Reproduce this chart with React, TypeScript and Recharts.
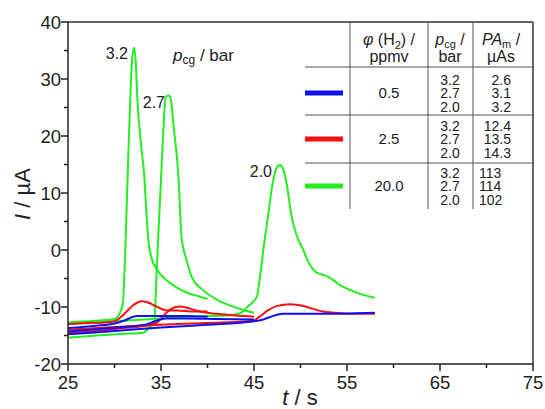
import React from 'react';
import { LineChart, Line, XAxis, YAxis, ReferenceLine } from 'recharts';

// axis ticks (minor every 5, labels every 10)
const xTicks = [25, 30, 35, 40, 45, 50, 55, 60, 65, 70, 75];
const xLabels = [25, 35, 45, 55, 65, 75];
const yTicks = [-20, -15, -10, -5, 0, 5, 10, 15, 20, 25, 30, 35, 40];
const yLabels = [-20, -10, 0, 10, 20, 30, 40];

// 20.0 ppmv H2 (green), t in s, I in µA
const g32T = [25, 27, 29, 30, 30.5, 30.9, 31.2, 31.4, 31.7, 31.9, 32.1, 32.3, 32.45, 32.85, 33.2, 33.45, 33.65, 34.0, 34.6, 35.6, 36.7, 37.8, 39, 40];
const g32V = [-12.7, -12.5, -12.3, -12.1, -11.3, -9.3, 2, 12.3, 26.8, 33.5, 35.5, 32.5, 26.8, 18.5, 13, 6, 1.5, -1.5, -3.5, -5.3, -6.6, -7.5, -8.1, -8.6];
const g27T = [25, 28, 31, 33.1, 33.8, 34.3, 34.5, 34.75, 35.0, 35.25, 35.5, 35.8, 36.0, 36.4, 36.9, 37.2, 37.7, 38.3, 39.5, 41, 42.7, 44, 45];
const g27V = [-15.4, -15.0, -14.7, -14.5, -13.5, -12.5, -5, 4, 12.3, 21, 26.8, 27.1, 26.8, 21, 12.3, 2.3, -1.5, -4.7, -7, -8.7, -9.9, -10.6, -11];
const g20T = [25, 28, 31, 34, 37, 40, 42, 43.5, 44.4, 45.3, 45.7, 46.0, 46.5, 47.0, 47.4, 47.8, 48.1, 48.5, 49.05, 49.6, 50.3, 50.9, 51.6, 52.3, 53, 54.2, 55.3, 56.4, 58];
const g20V = [-13.0, -12.7, -12.4, -12.1, -11.8, -11.6, -11.5, -11.1, -9.8, -8.2, -4, 0, 5.8, 11.7, 14.3, 14.9, 14.3, 11.7, 5.8, 2.5, 0, -2.3, -3.8, -4.3, -4.7, -6.1, -7.0, -7.7, -8.4];

// 2.5 ppmv H2 (red)
const r32T = [25, 27, 29, 30, 31, 32, 32.9, 33.6, 34.5, 35.6, 36.7, 38.5, 40];
const r32V = [-13.0, -12.8, -12.7, -12.5, -11.3, -9.7, -9.0, -9.2, -9.9, -10.6, -10.6, -10.8, -10.8];
const r27T = [25, 28, 31, 33, 34.5, 35.3, 36.0, 37.0, 38.0, 39.2, 41, 43, 45];
const r27V = [-14.6, -14.2, -13.7, -13.4, -12.8, -11.5, -10.4, -9.9, -10.2, -10.8, -11.2, -11.5, -11.7];
const r20T = [25, 30, 35, 40, 44.9, 45.6, 46.5, 47.5, 48.9, 50.5, 52.4, 54.5, 56.4, 58];
const r20V = [-14.0, -13.5, -13.1, -12.8, -12.4, -11.7, -10.6, -9.8, -9.5, -9.9, -10.8, -11.1, -11.2, -11.2];

// 0.5 ppmv H2 (blue)
const b32T = [25, 28, 30, 31, 32.4, 35, 37.5, 40];
const b32V = [-13.7, -13.3, -12.9, -12.4, -11.6, -11.6, -11.6, -11.7];
const b27T = [25, 28, 31, 33.5, 34.5, 35.5, 38, 41, 45];
const b27V = [-14.3, -13.9, -13.5, -13.0, -12.4, -12.0, -12.0, -12.1, -12.2];
const b20T = [25, 30, 35, 40, 44.6, 46, 47, 48.1, 50, 53, 56, 58];
const b20V = [-14.8, -14.2, -13.6, -13.1, -12.6, -12.2, -11.6, -11.2, -11.2, -11.2, -11.1, -11.0];

// legend table
const ppmv = ['0.5', '2.5', '20.0'];
const pressures = ['3.2', '2.7', '2.0'];
const peakAreas = [['2.6', '3.1', '3.2'], ['12.4', '13.5', '14.3'], ['113', '114', '102']];

const BLUE = '#1010f0';
const RED = '#f01010';
const GREEN = '#22ee22';
const INK = '#222';
const FONT = '"Liberation Sans", Arial, sans-serif';

const pts = (t: number[], v: number[]) => t.map((x, i) => ({ t: x, v: v[i] }));

const series = [
  { id: 'g32', color: GREEN, data: pts(g32T, g32V) },
  { id: 'g27', color: GREEN, data: pts(g27T, g27V) },
  { id: 'g20', color: GREEN, data: pts(g20T, g20V) },
  { id: 'r32', color: RED, data: pts(r32T, r32V) },
  { id: 'r27', color: RED, data: pts(r27T, r27V) },
  { id: 'r20', color: RED, data: pts(r20T, r20V) },
  { id: 'b32', color: BLUE, data: pts(b32T, b32V) },
  { id: 'b27', color: BLUE, data: pts(b27T, b27V) },
  { id: 'b20', color: BLUE, data: pts(b20T, b20V) },
];

function XTick({ x, y, payload }: any) {
  const major = xLabels.includes(payload.value);
  return (
    <g>
      <line x1={x} y1={y} x2={x} y2={y + (major ? 7 : 4)} stroke={INK} strokeWidth={1.5} />
      {major && (
        <text x={x} y={y + 25} textAnchor="middle" fontSize={18.5} fill={INK} fontFamily={FONT}>
          {payload.value}
        </text>
      )}
    </g>
  );
}

function YTick({ x, y, payload }: any) {
  const major = yLabels.includes(payload.value);
  return (
    <g>
      <line x1={x - (major ? 7 : 4)} y1={y} x2={x} y2={y} stroke={INK} strokeWidth={1.5} />
      {major && (
        <text x={x - 7} y={y + 6.5} textAnchor="end" fontSize={18.5} fill={INK} fontFamily={FONT}>
          {payload.value}
        </text>
      )}
    </g>
  );
}

// table rows, centre y in px
const rowY = [93, 139, 186];

function Overlay() {
  return (
    <svg width={545} height={409} style={{ position: 'absolute', left: 0, top: 0, pointerEvents: 'none' }} fontFamily={FONT} fill={INK}>
      {/* peak labels */}
      <text x={128} y={59} textAnchor="end" fontSize={16}>3.2</text>
      <text x={165} y={108} textAnchor="end" fontSize={16}>2.7</text>
      <text x={272} y={177} textAnchor="end" fontSize={16}>2.0</text>
      <text x={173} y={61} fontSize={17}>
        <tspan fontStyle="italic">p</tspan>
        <tspan fontSize={12} dy={3}>cg</tspan>
        <tspan dy={-3}> / bar</tspan>
      </text>

      {/* axis titles */}
      <text x={300} y={405} textAnchor="middle" fontSize={22}>
        <tspan fontStyle="italic">t</tspan> / s
      </text>
      <text transform="translate(30,194) rotate(-90)" textAnchor="middle" fontSize={22}>
        <tspan fontStyle="italic">I</tspan> / µA
      </text>

      {/* table lines */}
      <g stroke="#555" strokeWidth={1}>
        <line x1={305} y1={67} x2={533} y2={67} />
        <line x1={305} y1={115} x2={533} y2={115} />
        <line x1={305} y1={163} x2={533} y2={163} />
        <line x1={350} y1={22} x2={350} y2={209} />
        <line x1={428} y1={22} x2={428} y2={209} />
        <line x1={473} y1={22} x2={473} y2={209} />
      </g>

      {/* header */}
      <text x={389} y={45} textAnchor="middle" fontSize={16}>
        <tspan fontStyle="italic">φ</tspan> (H<tspan fontSize={11} dy={4}>2</tspan>
        <tspan dy={-4}>) /</tspan>
      </text>
      <text x={389} y={62} textAnchor="middle" fontSize={16}>ppmv</text>
      <text x={450} y={45} textAnchor="middle" fontSize={16}>
        <tspan fontStyle="italic">p</tspan>
        <tspan fontSize={11} dy={3}>cg</tspan>
        <tspan dy={-3}> /</tspan>
      </text>
      <text x={450} y={62} textAnchor="middle" fontSize={16}>bar</text>
      <text x={501} y={45} textAnchor="middle" fontSize={16}>
        <tspan fontStyle="italic">PA</tspan>
        <tspan fontSize={11} dy={3}>m</tspan>
        <tspan dy={-3}> /</tspan>
      </text>
      <text x={501} y={62} textAnchor="middle" fontSize={16}>µAs</text>

      {/* rows */}
      {rowY.map((cy, r) => (
        <g key={r}>
          <line x1={305} y1={cy} x2={343} y2={cy} stroke={[BLUE, RED, GREEN][r]} strokeWidth={5} />
          <text x={389} y={cy + 5} textAnchor="middle" fontSize={15}>{ppmv[r]}</text>
          {pressures.map((p, i) => (
            <text key={p} x={450} y={cy - 8 + i * 13.3} textAnchor="middle" fontSize={14}>{p}</text>
          ))}
          {peakAreas[r].map((a, i) => (
            <text
              key={i}
              x={r < 2 ? 511 : 479}
              y={cy - 8 + i * 13.3}
              textAnchor={r < 2 ? 'end' : 'start'}
              fontSize={14}
            >
              {a}
            </text>
          ))}
        </g>
      ))}
    </svg>
  );
}

export default function App() {
  return (
    <div style={{ position: 'absolute', left: 0, top: 0, width: 545, height: 409, background: '#fff' }}>
      <LineChart width={545} height={409} margin={{ top: 22, right: 12, bottom: 15, left: 0 }}>
        <XAxis
          type="number"
          dataKey="t"
          domain={[25, 75]}
          ticks={xTicks}
          interval={0}
          tickSize={0}
          tickMargin={0}
          tick={<XTick />}
          height={30}
          axisLine={{ stroke: INK, strokeWidth: 1.5 }}
          allowDataOverflow
        />
        <YAxis
          type="number"
          domain={[-20, 40]}
          ticks={yTicks}
          interval={0}
          tickSize={0}
          tickMargin={0}
          tick={<YTick />}
          width={68}
          axisLine={{ stroke: INK, strokeWidth: 1.5 }}
          allowDataOverflow
        />
        <ReferenceLine y={40} stroke="#333" strokeWidth={1.5} />
        <ReferenceLine x={75} stroke="#333" strokeWidth={1.5} />
        {series.map((s) => (
          <Line
            key={s.id}
            data={s.data}
            dataKey="v"
            type="monotone"
            stroke={s.color}
            strokeWidth={2}
            dot={false}
            isAnimationActive={false}
          />
        ))}
      </LineChart>
      <Overlay />
    </div>
  );
}
